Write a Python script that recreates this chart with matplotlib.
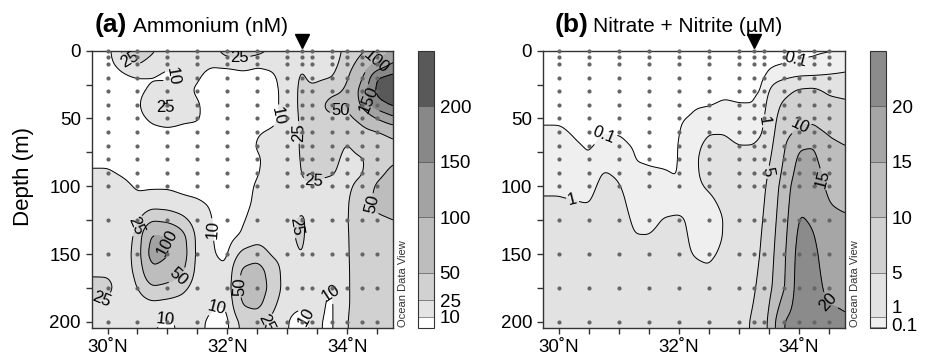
import numpy as np
import matplotlib
matplotlib.use('Agg')
import matplotlib.pyplot as plt
from matplotlib.transforms import blended_transform_factory

plt.rcParams['font.family'] = ['Liberation Sans', 'DejaVu Sans']

# сетка, на которой заданы значения (широта, глубина)
GRID_LATS = [29.75, 30.0, 30.25, 30.5, 30.75, 31.0, 31.25, 31.5, 31.75, 32.0, 32.25,
             32.5, 32.75, 33.0, 33.25, 33.42, 33.75, 34.0, 34.25, 34.5, 34.78]
GRID_DEPTHS = [0, 10, 20, 30, 40, 50, 60, 70, 80, 90, 100, 112, 125, 137, 150, 162, 175, 187, 200]

# станции и горизонты отбора проб (точки)
STATION_LATS = [30.0, 30.5, 31.0, 31.5, 32.0, 32.5, 33.0, 33.25, 33.42, 33.75, 34.0, 34.25, 34.5]
SAMPLE_DEPTHS = [0, 5, 10, 20, 30, 40, 50, 60, 70, 80, 90, 100, 125, 150, 175, 200]
ARROW_LAT = 33.25

# аммоний, нМ: один столбец на широту, сверху вниз по GRID_DEPTHS
NH4 = [
    [5, 5, 5, 5, 5, 5, 6, 7, 8, 11, 13, 14, 15, 16, 17, 22, 30, 24, 15],
    [4, 6, 5, 5, 5, 5, 6, 7, 8, 11, 14, 15, 16, 17, 18, 23, 28, 23, 15],
    [30, 14, 7, 6, 6, 5, 5, 5, 6, 9, 12, 14, 18, 20, 21, 21, 20, 17, 13],
    [40, 26, 9, 7, 7, 6, 6, 6, 6, 7, 9, 12, 22, 27, 28, 27, 24, 17, 12],
    [28, 16, 9, 12, 24, 12, 7, 6, 6, 7, 9, 14, 45, 110, 130, 90, 45, 20, 11],
    [15, 11, 8, 16, 30, 16, 7, 6, 6, 7, 9, 14, 40, 100, 105, 75, 40, 18, 8],
    [16, 14, 11, 12, 14, 12, 7, 5, 5, 6, 8, 12, 30, 60, 65, 55, 30, 17, 12],
    [16, 13, 11, 9, 11, 11, 7, 5, 5, 5, 7, 11, 15, 18, 18, 17, 15, 14, 12],
    [18, 11, 6, 5, 6, 6, 5, 4, 4, 4, 5, 9, 10, 10, 10.5, 12, 14, 11, 8],
    [35, 12, 5, 4, 4, 4, 4, 4, 4, 4, 4, 4, 5, 6, 8, 11, 14, 10, 7],
    [38, 13, 7, 5, 5, 5, 5, 5, 6, 6, 7, 7, 9, 11, 30, 55, 60, 52, 30],
    [32, 10, 8, 6, 6, 7, 9.5, 11, 9, 9.5, 11, 12, 14, 18, 35, 65, 70, 60, 30],
    [22, 12, 8, 7, 7, 8, 11, 12, 13, 13, 14, 15, 16, 17, 22, 35, 40, 30, 20],
    [18, 16, 15, 14, 14, 13, 13, 14, 15, 16, 17, 18, 20, 22, 20, 16, 14, 12, 10],
    [18, 24, 28, 30, 30, 29, 28, 28, 27, 26, 24, 22, 28, 28, 26, 20, 15, 11, 7],
    [14, 16, 20, 30, 38, 42, 38, 34, 30, 27, 24, 20, 18, 17, 16, 15, 15, 14, 12],
    [16, 18, 24, 45, 60, 45, 35, 30, 28, 26, 22, 18, 16, 15, 14, 12, 9, 8, 8],
    [30, 35, 45, 55, 52, 40, 28, 24, 22, 21, 22, 23, 24, 24, 24, 24, 24, 24, 25],
    [45, 65, 95, 120, 110, 60, 40, 30, 24, 23, 30, 38, 36, 33, 32, 31, 31, 31, 32],
    [60, 110, 205, 215, 180, 100, 45, 35, 30, 40, 55, 58, 45, 38, 36, 35, 35, 35, 36],
    [110, 160, 220, 240, 210, 140, 60, 42, 45, 60, 70, 62, 50, 42, 40, 38, 38, 38, 38],
]

# нитрат + нитрит, мкМ
NOX = [
    [0.02, 0.03, 0.04, 0.05, 0.06, 0.07, 0.13, 0.3, 0.45, 0.6, 0.85, 1.1, 1.5, 1.8, 2.0, 2.2, 2.3, 2.4, 2.5],
    [0.02, 0.03, 0.04, 0.05, 0.06, 0.07, 0.13, 0.3, 0.45, 0.6, 0.85, 1.1, 1.5, 1.8, 2.0, 2.2, 2.3, 2.4, 2.5],
    [0.02, 0.03, 0.04, 0.05, 0.06, 0.06, 0.07, 0.13, 0.3, 0.5, 0.7, 1.05, 1.5, 1.8, 2.0, 2.2, 2.3, 2.4, 2.5],
    [0.02, 0.02, 0.03, 0.03, 0.04, 0.05, 0.05, 0.06, 0.11, 0.3, 0.6, 0.95, 1.5, 1.8, 2.0, 2.2, 2.3, 2.4, 2.5],
    [0.02, 0.02, 0.03, 0.04, 0.05, 0.06, 0.09, 0.15, 0.5, 1.1, 1.4, 1.7, 1.9, 2.0, 2.1, 2.2, 2.3, 2.4, 2.5],
    [0.02, 0.02, 0.03, 0.04, 0.05, 0.06, 0.09, 0.13, 0.4, 0.8, 1.1, 1.5, 1.8, 2.0, 2.1, 2.2, 2.3, 2.4, 2.5],
    [0.02, 0.02, 0.03, 0.04, 0.05, 0.06, 0.07, 0.08, 0.09, 0.15, 0.25, 0.4, 0.75, 1.05, 1.3, 1.6, 1.9, 2.1, 2.3],
    [0.02, 0.02, 0.03, 0.04, 0.05, 0.06, 0.07, 0.07, 0.08, 0.12, 0.2, 0.35, 0.6, 1.05, 1.4, 1.7, 1.9, 2.1, 2.3],
    [0.02, 0.02, 0.03, 0.04, 0.05, 0.06, 0.06, 0.07, 0.07, 0.11, 0.2, 0.5, 1.1, 1.4, 1.6, 1.8, 2.0, 2.1, 2.3],
    [0.02, 0.02, 0.03, 0.04, 0.05, 0.06, 0.06, 0.07, 0.07, 0.08, 0.12, 0.6, 1.2, 1.3, 1.3, 1.6, 1.9, 2.1, 2.3],
    [0.02, 0.03, 0.04, 0.06, 0.08, 0.12, 0.4, 0.7, 0.8, 0.8, 0.8, 0.75, 0.7, 0.8, 0.95, 1.2, 1.5, 1.8, 2.1],
    [0.03, 0.04, 0.05, 0.06, 0.07, 0.25, 0.95, 1.3, 1.5, 1.4, 1.1, 0.8, 0.55, 0.6, 0.8, 1.1, 1.5, 1.8, 2.1],
    [0.02, 0.03, 0.05, 0.07, 0.12, 0.4, 0.95, 1.3, 1.5, 1.5, 1.4, 1.2, 0.98, 1.0, 1.2, 1.5, 1.8, 2.0, 2.2],
    [0.02, 0.03, 0.05, 0.07, 0.095, 0.3, 0.6, 1.0, 1.5, 1.8, 2.0, 2.1, 2.3, 2.4, 2.5, 2.7, 3.0, 3.2, 3.5],
    [0.02, 0.03, 0.05, 0.07, 0.095, 0.3, 0.6, 1.0, 1.6, 2.0, 2.4, 2.7, 3.0, 3.3, 3.6, 4.0, 4.5, 5.0, 5.6],
    [0.03, 0.04, 0.06, 0.1, 0.3, 0.6, 0.9, 1.5, 2.5, 3.5, 4.2, 4.7, 5.2, 5.6, 6.0, 6.5, 7.0, 7.5, 8.0],
    [0.04, 0.07, 0.5, 3.5, 6, 7.5, 8.5, 9.5, 10.2, 11, 12, 12.5, 13, 13.5, 14, 14.2, 14.5, 17, 20.3],
    [0.06, 0.12, 0.85, 6, 8, 9.3, 10.6, 14.5, 16, 17, 18.5, 19.5, 20.5, 21.3, 22, 22.3, 22.5, 22.3, 22],
    [0.07, 0.14, 0.95, 6.5, 8, 9.5, 10.8, 15, 16, 17, 17.5, 18.5, 19.5, 20.3, 21, 21.3, 21.5, 21.3, 21],
    [0.07, 0.25, 1.2, 4.3, 6.5, 8, 9.5, 11, 12, 13, 14, 15, 16, 16.8, 17.5, 18.2, 19, 20, 21],
    [0.08, 0.6, 1.3, 3.8, 5.8, 7, 8.5, 10, 11, 12, 13, 14.2, 15.5, 16.5, 17.5, 18.3, 19, 19.7, 20.3],
]

NH4_LEVELS = [0, 10, 25, 50, 100, 150, 200, 250]
NOX_LEVELS = [0, 0.1, 1, 5, 10, 15, 20, 25]
NH4_TICKS = [10, 25, 50, 100, 150, 200]
NOX_TICKS = [0.1, 1, 5, 10, 15, 20]
NH4_COLORS = ['#ffffff', '#e4e4e4', '#d1d1d1', '#bdbdbd', '#a3a3a3', '#888888', '#595959']
NOX_COLORS = ['#ffffff', '#efefef', '#e2e2e2', '#d1d1d1', '#bdbdbd', '#a6a6a6', '#8b8b8b']

# где стоят подписи изолиний
NH4_LABELS = {
    10: [(31.29, 20), (32.85, 48), (31.73, 132), (30.96, 196), (31.85, 192), (33.28, 197), (33.76, 178)],
    25: [(30.4, 5), (30.95, 45), (32.2, 4), (30.43, 128), (29.87, 178), (32.6, 200),
         (33.43, 60), (33.48, 104), (33.15, 130)],
    50: [(31.12, 163), (32.29, 174), (33.9, 45), (34.54, 112)],
    100: [(30.95, 142), (34.55, 12)],
    150: [(34.37, 36)],
}
NOX_LABELS = {
    0.1: [(30.75, 62), (33.95, 8)],
    1: [(30.25, 106), (33.45, 52)],
    5: [(33.53, 90)],
    10: [(34.03, 56)],
    15: [(34.38, 95)],
    20: [(34.48, 186)],
}

xf = np.linspace(29.74, 34.78, 400)
yf = np.linspace(0, 205, 300)


def smooth(z, sx, sy):
    def kern(s):
        n = int(3 * s)
        k = np.exp(-0.5 * (np.arange(-n, n + 1) / s) ** 2)
        return k / k.sum()
    kx, ky = kern(sx), kern(sy)
    zp = np.pad(z, ((0, 0), (len(kx) // 2, len(kx) // 2)), mode='edge')
    z = np.array([np.convolve(r, kx, mode='valid') for r in zp])
    zp = np.pad(z, ((len(ky) // 2, len(ky) // 2), (0, 0)), mode='edge')
    z = np.array([np.convolve(c, ky, mode='valid') for c in zp.T]).T
    return z


def field(cols):
    z = np.array(cols, float).T  # глубина x широта
    rows = np.array([np.interp(xf, GRID_LATS, r) for r in z])
    full = np.array([np.interp(yf, GRID_DEPTHS, rows[:, j]) for j in range(len(xf))]).T
    return smooth(full, 4, 4)


def panel(ax, cax, cols, levels, colors, ticks, labels):
    z = np.clip(field(cols), levels[0] + 1e-6, levels[-1] - 1e-6)
    cf = ax.contourf(xf, yf, z, levels=levels, colors=colors)
    # каждая изолиния отдельно, чтобы подписи садились на нужный уровень
    for lev in levels[1:-1]:
        cs = ax.contour(xf, yf, z, levels=[lev], colors='k', linewidths=0.7)
        if lev in labels and len(cs.allsegs[0]) > 0:
            ax.clabel(cs, manual=labels[lev], fmt='%g', fontsize=12,
                      inline=True, inline_spacing=2)

    X, Y = np.meshgrid(STATION_LATS, SAMPLE_DEPTHS)
    ax.scatter(X, Y, s=9, c='#666666', linewidths=0, zorder=5, clip_on=False)

    tr = blended_transform_factory(ax.transData, ax.transAxes)
    ax.plot([ARROW_LAT], [1.035], marker='v', ms=10, color='k', transform=tr, clip_on=False)

    ax.set_xlim(29.74, 34.77)
    ax.set_ylim(204.6, 0)
    ax.set_xticks([30, 32, 34])
    ax.set_xticklabels(['30˚N', '32˚N', '34˚N'])
    ax.set_xticks([30.5, 31, 31.5, 32.5, 33, 33.5, 34.5], minor=True)
    ax.set_yticks([0, 50, 100, 150, 200])
    ax.set_yticks([25, 75, 125, 175], minor=True)
    ax.tick_params(which='both', direction='out', length=4, width=1, color='#333333',
                   labelsize=13.5, pad=4)
    for sp in ax.spines.values():
        sp.set_color('#333333')
        sp.set_linewidth(1)

    cb = plt.colorbar(cf, cax=cax, ticks=ticks, spacing='proportional', drawedges=True)
    cb.outline.set_edgecolor('#333333')
    cb.dividers.set_color('#333333')
    cb.ax.tick_params(length=0, labelsize=13.5, pad=4)
    cb.set_ticklabels(['%g' % t for t in ticks])
    return cb


fig = plt.figure(figsize=(9.28, 3.62), dpi=100)
ax1 = fig.add_axes([0.0991, 0.0939, 0.3247, 0.766])
cax1 = fig.add_axes([0.4504, 0.0939, 0.01724, 0.766])
ax2 = fig.add_axes([0.5855, 0.0939, 0.3251, 0.766])
cax2 = fig.add_axes([0.9375, 0.0939, 0.01724, 0.766])

panel(ax1, cax1, NH4, NH4_LEVELS, NH4_COLORS, NH4_TICKS, NH4_LABELS)
cb2 = panel(ax2, cax2, NOX, NOX_LEVELS, NOX_COLORS, NOX_TICKS, NOX_LABELS)
labs = cb2.ax.get_yticklabels()
labs[0].set_va('center')
labs[1].set_va('bottom')

# подписи
fig.text(95 / 928, 1 - 31.7 / 362, '(a)', weight='bold', size=19)
fig.text(133 / 928, 1 - 31.7 / 362, 'Ammonium (nM)', size=15)
fig.text(554.3 / 928, 1 - 31.7 / 362, '(b)', weight='bold', size=19)
fig.text(593.3 / 928, 1 - 31.7 / 362, 'Nitrate + Nitrite (µM)', size=15)
fig.text(23.5 / 928, 1 - 177 / 362, 'Depth (m)', rotation=90, size=16, ha='center', va='center')
fig.text(403.5 / 928, 1 - 327 / 362, 'Ocean Data View', rotation=90, size=8, color='#333333',
         ha='center', va='bottom')
fig.text(855 / 928, 1 - 327 / 362, 'Ocean Data View', rotation=90, size=8, color='#333333',
         ha='center', va='bottom')

fig.savefig('out.png', dpi=100)
